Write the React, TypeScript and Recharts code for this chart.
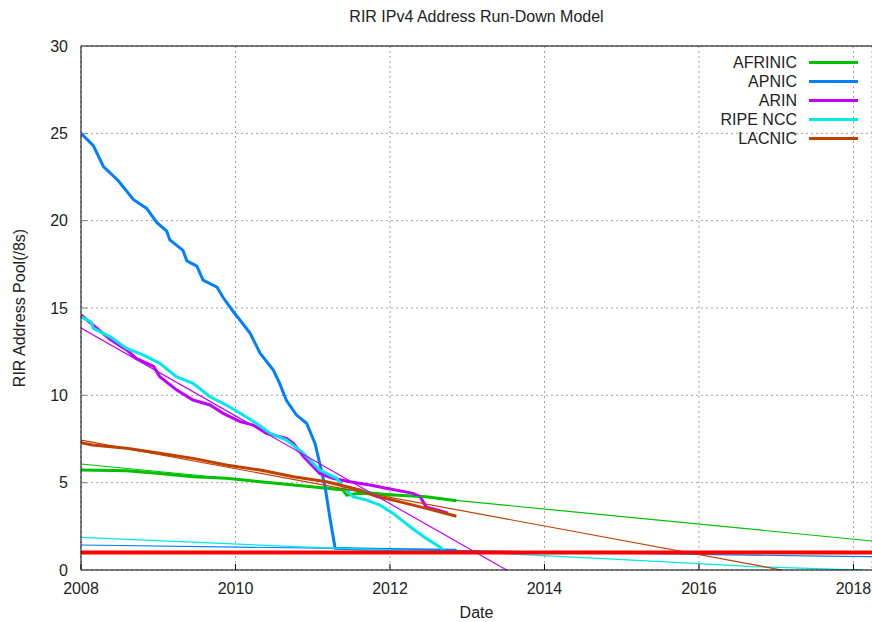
import { LineChart, Line, XAxis, YAxis, CartesianGrid, Legend } from 'recharts';

type Pt = [number, number];

const xTicks = [2008, 2010, 2012, 2014, 2016, 2018];
const yTicks = [0, 5, 10, 15, 20, 25, 30];

const afrinicActual: Pt[] = [
  [2008.0, 5.72], [2008.59, 5.68], [2009.02, 5.53], [2009.45, 5.34], [2009.88, 5.25],
  [2010.32, 5.05], [2010.75, 4.87], [2011.18, 4.68], [2011.39, 4.58], [2011.44, 4.29],
  [2011.61, 4.39], [2012.04, 4.29], [2012.47, 4.2], [2012.86, 3.97],
];
const afrinicModel: Pt[] = [[2008.0, 6.07], [2013.42, 3.74], [2018.24, 1.66]];

const apnicActual: Pt[] = [
  [2008.0, 25.0], [2008.16, 24.3], [2008.29, 23.1], [2008.48, 22.3], [2008.68, 21.2],
  [2008.85, 20.7], [2008.98, 19.9], [2009.11, 19.4], [2009.15, 18.9], [2009.32, 18.3],
  [2009.37, 17.7], [2009.5, 17.4], [2009.58, 16.6], [2009.76, 16.2], [2009.84, 15.6],
  [2009.97, 14.8], [2010.06, 14.3], [2010.19, 13.55], [2010.32, 12.4], [2010.49, 11.45],
  [2010.57, 10.7], [2010.66, 9.7], [2010.79, 8.87], [2010.92, 8.4], [2011.03, 7.25],
  [2011.09, 6.1], [2011.16, 4.77], [2011.22, 3.05], [2011.29, 1.24], [2011.6, 1.2],
  [2012.0, 1.18], [2012.5, 1.15], [2012.86, 1.13],
];
const apnicModel: Pt[] = [[2008.0, 1.43], [2011.3, 1.24], [2014.5, 1.0], [2017.6, 0.79], [2018.24, 0.76]];

const arinActual: Pt[] = [
  [2008.0, 14.6], [2008.16, 14.0], [2008.38, 13.2], [2008.59, 12.6], [2008.72, 12.1],
  [2008.94, 11.65], [2009.02, 11.07], [2009.24, 10.3], [2009.45, 9.73], [2009.67, 9.45],
  [2009.84, 8.97], [2010.06, 8.49], [2010.23, 8.3], [2010.4, 7.82], [2010.66, 7.54],
  [2010.75, 7.25], [2010.88, 6.49], [2011.09, 5.53], [2011.26, 5.25], [2011.48, 5.05],
  [2011.74, 4.87], [2011.95, 4.68], [2012.3, 4.39], [2012.39, 4.2], [2012.47, 3.6],
  [2012.6, 3.45], [2012.75, 3.25],
];
const arinModel: Pt[] = [[2008.0, 13.85], [2013.51, 0]];

const ripeActual: Pt[] = [
  [2008.0, 14.5], [2008.13, 14.2], [2008.16, 13.83], [2008.38, 13.35], [2008.59, 12.69],
  [2008.81, 12.3], [2009.02, 11.83], [2009.24, 11.06], [2009.45, 10.69], [2009.67, 9.92],
  [2009.88, 9.45], [2010.06, 8.97], [2010.27, 8.4], [2010.45, 7.82], [2010.66, 7.44],
  [2010.88, 6.68], [2011.09, 5.72], [2011.31, 5.25], [2011.39, 4.77], [2011.52, 4.2],
  [2011.7, 4.0], [2011.87, 3.72], [2012.04, 3.24], [2012.26, 2.48], [2012.47, 1.81],
  [2012.64, 1.33], [2012.73, 1.0],
];
const ripeModel: Pt[] = [
  [2008.0, 1.87], [2011.1, 1.28], [2013.42, 0.95], [2014.7, 0.67], [2015.75, 0.42],
  [2016.7, 0.19], [2017.82, 0.04], [2018.1, 0.03],
];

const lacnicActual: Pt[] = [
  [2008.0, 7.29], [2008.15, 7.16], [2008.59, 6.97], [2009.02, 6.68], [2009.45, 6.39],
  [2009.88, 6.01], [2010.32, 5.72], [2010.75, 5.34], [2011.18, 5.05], [2011.61, 4.58],
  [2011.83, 4.2], [2012.04, 4.0], [2012.47, 3.53], [2012.86, 3.08],
];
const lacnicModel: Pt[] = [[2008.0, 7.44], [2017.07, 0]];

const exhaustionLevel: Pt[] = [[2008.0, 1.0], [2018.24, 1.0]];

const legendNames = ['AFRINIC', 'APNIC', 'ARIN', 'RIPE NCC', 'LACNIC'];
const legendColors = ['#00c000', '#0080ff', '#c000ff', '#00e8e8', '#c04000'];

const toRows = (pts: Pt[]) => pts.map(([year, v]) => ({ year, v }));

const font = '"Liberation Sans", Arial, sans-serif';
const tickStyle = { fontSize: 16, fill: '#222', fontFamily: font };

function LegendBox() {
  return (
    <div style={{ width: 140, fontFamily: font, fontSize: 16, color: '#222' }}>
      {legendNames.map((name, i) => (
        <div key={name} style={{ display: 'flex', justifyContent: 'flex-end', alignItems: 'center', height: 19 }}>
          <span style={{ lineHeight: '19px' }}>{name}</span>
          <span style={{ display: 'inline-block', width: 49, height: 3, marginLeft: 12, background: legendColors[i] }} />
        </div>
      ))}
    </div>
  );
}

export default function App() {
  const series = [
    { id: 'afrinic', actual: afrinicActual, model: afrinicModel, color: legendColors[0] },
    { id: 'apnic', actual: apnicActual, model: apnicModel, color: legendColors[1] },
    { id: 'arin', actual: arinActual, model: arinModel, color: legendColors[2] },
    { id: 'ripe', actual: ripeActual, model: ripeModel, color: legendColors[3] },
    { id: 'lacnic', actual: lacnicActual, model: lacnicModel, color: legendColors[4] },
  ];

  return (
    <div style={{ position: 'absolute', left: 0, top: 0, width: 872, height: 622, background: '#fff', fontFamily: font }}>
      <div style={{ position: 'absolute', left: 81, width: 791, top: 7, textAlign: 'center', fontSize: 16, lineHeight: '20px', color: '#222' }}>
        RIR IPv4 Address Run-Down Model
      </div>
      <div style={{ position: 'absolute', left: 81, width: 791, top: 605, textAlign: 'center', fontSize: 16, lineHeight: '16px', color: '#222' }}>
        Date
      </div>
      <div
        style={{
          position: 'absolute', left: 20, top: 308, width: 200, marginLeft: -100, marginTop: -10,
          textAlign: 'center', fontSize: 16, lineHeight: '20px', color: '#222', transform: 'rotate(-90deg)',
        }}
      >
        RIR Address Pool(/8s)
      </div>
      <LineChart width={872} height={622} margin={{ top: 16, right: 0, bottom: 22, left: 0 }}>
        <CartesianGrid stroke="#a0a0a0" strokeDasharray="2 3" />
        <XAxis
          dataKey="year"
          type="number"
          domain={[2008, 2018.24]}
          ticks={xTicks}
          allowDataOverflow
          height={30}
          tickSize={-6}
          tickMargin={19}
          tick={tickStyle}
          axisLine={{ stroke: '#000' }}
          tickLine={{ stroke: '#000' }}
        />
        <XAxis
          xAxisId="top"
          orientation="top"
          dataKey="year"
          type="number"
          domain={[2008, 2018.24]}
          ticks={xTicks}
          allowDataOverflow
          height={30}
          tickSize={-6}
          tick={false}
          axisLine={{ stroke: '#000' }}
          tickLine={{ stroke: '#000' }}
        />
        <YAxis
          type="number"
          domain={[0, 30]}
          ticks={yTicks}
          width={81}
          tickSize={-6}
          tickMargin={19}
          tick={tickStyle}
          axisLine={{ stroke: '#000' }}
          tickLine={{ stroke: '#808080' }}
        />
        <Legend
          layout="vertical"
          align="center"
          verticalAlign="middle"
          wrapperStyle={{ top: 53, left: 718, width: 140 }}
          content={() => <LegendBox />}
        />
        {series.map((s) => (
          <Line
            key={s.id + '-actual'}
            data={toRows(s.actual)}
            dataKey="v"
            type="linear"
            stroke={s.color}
            strokeWidth={3}
            dot={false}
            activeDot={false}
            isAnimationActive={false}
          />
        ))}
        {series.map((s) => (
          <Line
            key={s.id + '-model'}
            data={toRows(s.model)}
            dataKey="v"
            type="linear"
            stroke={s.color}
            strokeWidth={1.2}
            dot={false}
            activeDot={false}
            isAnimationActive={false}
          />
        ))}
        <Line
          data={toRows(exhaustionLevel)}
          dataKey="v"
          type="linear"
          stroke="#ff0000"
          strokeWidth={4}
          dot={false}
          activeDot={false}
          isAnimationActive={false}
        />
      </LineChart>
    </div>
  );
}
